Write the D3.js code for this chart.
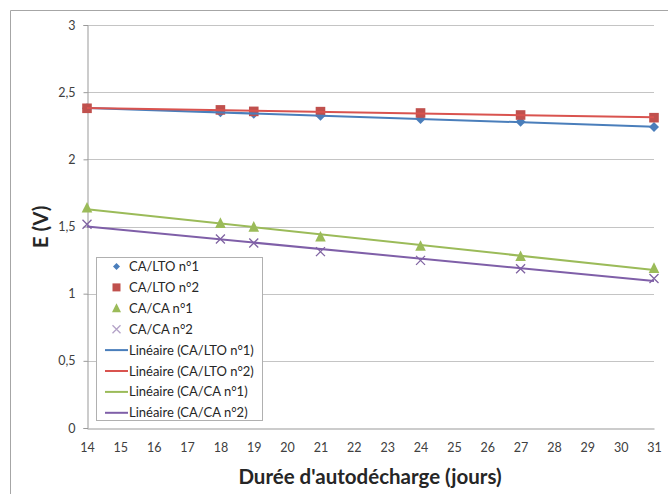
<!DOCTYPE html>
<html><head><meta charset="utf-8">
<script src="https://cdn.jsdelivr.net/npm/d3@7"></script>
<style>
body{margin:0;background:#fff;}
svg{display:block;font-family:Lato,"Open Sans",sans-serif;}
</style></head>
<body><svg id="c" width="668" height="494"></svg>
<script>
const days = [14, 18, 19, 21, 24, 27, 31];
const ltoN1 = [2.38, 2.35, 2.34, 2.325, 2.30, 2.28, 2.24];
const ltoN2 = [2.38, 2.368, 2.357, 2.355, 2.345, 2.33, 2.31];
const caN1 = [1.64, 1.525, 1.497, 1.424, 1.355, 1.278, 1.19];
const caN2 = [1.517, 1.407, 1.377, 1.313, 1.248, 1.185, 1.113];
const seriesNames = ["CA/LTO n°1", "CA/LTO n°2", "CA/CA n°1", "CA/CA n°2"];
const yTicks = [0, 0.5, 1, 1.5, 2, 2.5, 3];
const xTicks = d3.range(14, 32);
const colors = ["#4a7ebb", "#c0504d", "#9bbb59", "#8064a2"];
const lineColors = ["#4a7ebb", "#d9534f", "#9bbb59", "#7f5fa8"];
const shapes = ["diamond", "square", "triangle", "x"];
const seriesVals = [ltoN1, ltoN2, caN1, caN2];

const svg = d3.select("#c");
const L = 87, R = 654, T = 25, B = 428;
const x = d3.scaleLinear().domain([14, 31]).range([L, R]);
const y = d3.scaleLinear().domain([0, 3]).range([B, T]);
const fmt = v => String(v).replace(".", ",");

// outer frame
svg.append("path").attr("d", "M10.5,494 V10.5 H668").attr("fill", "none").attr("stroke", "#a6a6a6").attr("stroke-width", 1);

// gridlines
svg.append("g").selectAll("line").data(yTicks.filter(d => d > 0)).join("line")
  .attr("x1", L).attr("x2", R).attr("y1", d => Math.round(y(d)) + 0.5).attr("y2", d => Math.round(y(d)) + 0.5)
  .attr("stroke", "#c4c4c4");

// y axis
const ya = svg.append("g").attr("transform", `translate(${L + 0.5},0)`)
  .call(d3.axisLeft(y).tickValues(yTicks).tickFormat(fmt).tickSize(4).tickPadding(8));
ya.select(".domain").attr("stroke", "#999");
ya.selectAll(".tick line").attr("stroke", "#999");
ya.selectAll("text").attr("font-size", 12.5).attr("fill", "#404040").attr("font-family", "Lato");

// x axis
const xa = svg.append("g").attr("transform", `translate(0,${B + 0.5})`)
  .call(d3.axisBottom(x).tickValues(xTicks).tickSize(0).tickPadding(15));
xa.select(".domain").attr("stroke", "#999");
xa.selectAll("text").attr("font-size", 12.5).attr("fill", "#404040").attr("font-family", "Lato");

// axis titles
svg.append("text").attr("x", 370).attr("y", 484).attr("text-anchor", "middle")
  .attr("font-size", 20.5).attr("font-weight", "bold").attr("fill", "#262626").text("Durée d'autodécharge (jours)");
svg.append("text").attr("transform", "translate(48,227) rotate(-90)").attr("text-anchor", "middle")
  .attr("font-size", 20.5).attr("font-weight", "bold").attr("fill", "#262626").text("E (V)");

// linear regression
function fit(xs, ys) {
  const mx = d3.mean(xs), my = d3.mean(ys);
  const b = d3.sum(xs, (v, i) => (v - mx) * (ys[i] - my)) / d3.sum(xs, v => (v - mx) ** 2);
  return [b, my - b * mx];
}
function drawMarker(g, shape, color, cx, cy, s) {
  if (shape === "diamond") g.append("path").attr("d", `M${cx},${cy - s} L${cx + s},${cy} L${cx},${cy + s} L${cx - s},${cy} Z`).attr("fill", color);
  else if (shape === "square") g.append("rect").attr("x", cx - s).attr("y", cy - s).attr("width", 2 * s).attr("height", 2 * s).attr("fill", color);
  else if (shape === "triangle") g.append("path").attr("d", `M${cx},${cy - s - 1} L${cx + s + 0.5},${cy + s} L${cx - s - 0.5},${cy + s} Z`).attr("fill", color);
  else g.append("path").attr("d", `M${cx - s},${cy - s} L${cx + s},${cy + s} M${cx - s},${cy + s} L${cx + s},${cy - s}`).attr("stroke", color).attr("stroke-width", 1.3).attr("fill", "none");
}

const plot = svg.append("g");
seriesVals.forEach((vals, i) => {
  const g = plot.append("g");
  days.forEach((d, j) => drawMarker(g, shapes[i], colors[i], x(d), y(vals[j]), i === 3 ? 4.5 : (i === 0 ? 5 : 4.8)));
});
seriesVals.forEach((vals, i) => {
  const [b, a] = fit(days, vals);
  plot.append("line").attr("x1", x(14)).attr("x2", x(31)).attr("y1", y(a + b * 14)).attr("y2", y(a + b * 31))
    .attr("stroke", lineColors[i]).attr("stroke-width", 2);
});

// legend
const lg = svg.append("g");
lg.append("rect").attr("x", 96.5).attr("y", 257.5).attr("width", 166).attr("height", 163).attr("fill", "#fff").attr("stroke", "#b0b0b0");
const rowY = i => 266.5 + i * 20.9;
const legendColorsM = ["#4a7ebb", "#c0504d", "#9bbb59", "#b3a2c7"];
seriesNames.forEach((n, i) => {
  drawMarker(lg, shapes[i], legendColorsM[i], 116.5, rowY(i), i === 0 ? 3.5 : 4);
  lg.append("text").attr("x", 129).attr("y", rowY(i) + 4.5).attr("font-size", 13).attr("fill", "#262626").text(n);
});
seriesNames.forEach((n, i) => {
  const yy = rowY(i + 4);
  lg.append("line").attr("x1", 105).attr("x2", 128).attr("y1", yy).attr("y2", yy).attr("stroke", lineColors[i]).attr("stroke-width", 2);
  lg.append("text").attr("x", 129).attr("y", yy + 4.5).attr("font-size", 13).attr("fill", "#262626").text(`Linéaire (${n})`);
});
</script></body></html>
